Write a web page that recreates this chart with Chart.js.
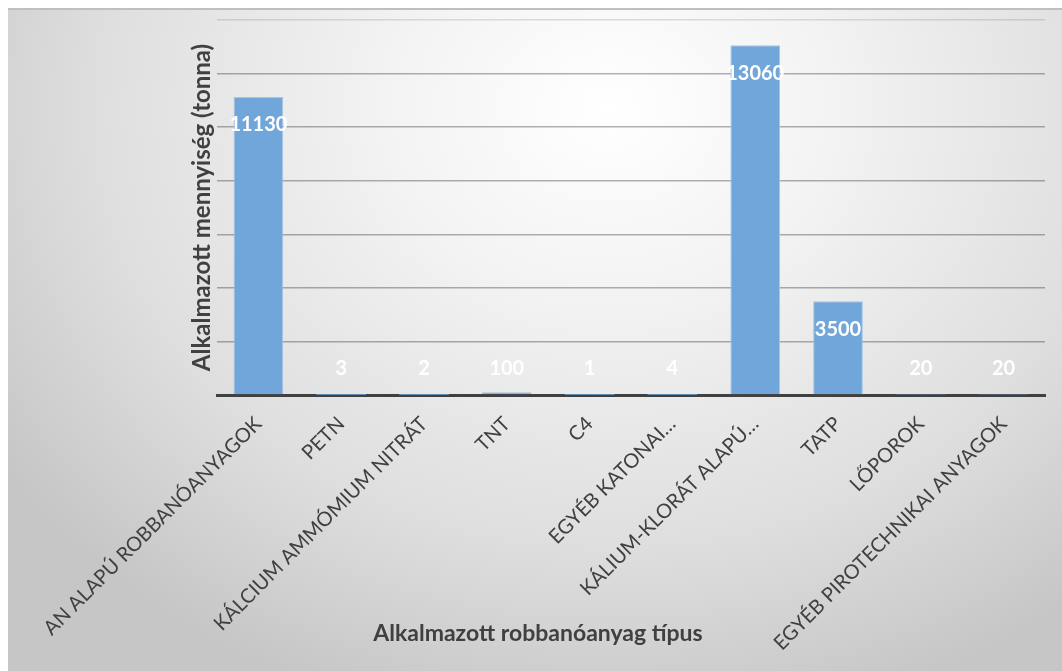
<!DOCTYPE html>
<html>
<head>
<meta charset="utf-8">
<script src="https://cdn.jsdelivr.net/npm/chart.js@4"></script>
<style>
  body { margin: 0; background: #fff; }
  #frame {
    position: absolute; left: 8px; top: 8px; right: 0; bottom: 0;
    border-top: 2px solid #bfbfbf;
    background: radial-gradient(ellipse 70% 95% at 57% 15%, #ffffff 0%, #f3f3f3 30%, #dedede 70%, #c6c6c6 100%);
  }
  #wrap { position: absolute; left: 0; top: 0; width: 1062px; height: 671px; }
</style>
</head>
<body>
<div id="frame"></div>
<div id="wrap"><canvas id="myChart" width="1062" height="671"></canvas></div>
<script>
const categories = ['AN ALAPÚ ROBBANÓANYAGOK', 'PETN', 'KÁLCIUM AMMÓMIUM NITRÁT', 'TNT', 'C4',
    'EGYÉB KATONAI…', 'KÁLIUM-KLORÁT ALAPÚ…', 'TATP', 'LŐPOROK', 'EGYÉB PIROTECHNIKAI ANYAGOK'];
const amounts = [11130, 3, 2, 100, 1, 4, 13060, 3500, 20, 20];
const yMax = 14000;
const yStep = 2000;
const xTitle = 'Alkalmazott robbanóanyag típus';
const yTitle = 'Alkalmazott mennyiség (tonna)';

const ctx = document.getElementById('myChart');

// white value labels ("inside end") + x axis title, which sits left of centre in the original
const barLabels = {
    id: 'barLabels',
    afterDatasetsDraw(chart) {
        const c = chart.ctx;
        const meta = chart.getDatasetMeta(0);
        const base = chart.scales.y.getPixelForValue(0);
        c.save();
        c.font = 'bold 20px Lato';
        c.fillStyle = '#ffffff';
        c.textAlign = 'center';
        c.textBaseline = 'middle';
        meta.data.forEach((bar, i) => {
            let y = Math.min(bar.y + 28, base - 26);
            c.fillText(amounts[i], bar.x, y);
        });
        c.font = 'bold 23px Lato';
        c.fillStyle = '#404040';
        c.fillText(xTitle, 538, 634);
        c.restore();
    }
};

const myChart = new Chart(ctx, {
    type: 'bar',
    data: {
        labels: categories,
        datasets: [{
            data: amounts,
            backgroundColor: '#70a6d9',
            borderColor: '#a4c6e8',
            borderWidth: (c) => c.raw < 50 ? 0 : 1,
            barPercentage: 0.6,
            categoryPercentage: 1
        }]
    },
    options: {
        responsive: false,
        animation: false,
        devicePixelRatio: 1,
        layout: { padding: { left: 0, top: 20, right: 17, bottom: 0 } },
        plugins: {
            legend: { display: false },
            tooltip: { enabled: false }
        },
        scales: {
            x: {
                grid: { display: false },
                border: { color: '#404040', width: 3 },
                ticks: {
                    autoSkip: false,
                    minRotation: 45,
                    maxRotation: 45,
                    padding: 9,
                    color: '#404040',
                    font: { family: 'Lato', size: 20 }
                },
                afterFit(scale) {
                    scale.height = 276;
                }
            },
            y: {
                min: 0,
                max: yMax,
                ticks: { display: false, stepSize: yStep },
                border: { display: false },
                grid: {
                    color: (c) => c.tick && c.tick.value === yMax ? 'rgba(0,0,0,0.12)' : 'rgba(0,0,0,0.3)',
                    lineWidth: 1.5,
                    drawTicks: false
                },
                title: {
                    display: true,
                    text: yTitle,
                    color: '#404040',
                    font: { family: 'Lato', size: 24, weight: 'bold' },
                    padding: { top: 188, bottom: 0 }
                },
                afterFit(scale) {
                    scale.width = 217;
                }
            }
        }
    },
    plugins: [barLabels]
});
</script>
</body>
</html>
